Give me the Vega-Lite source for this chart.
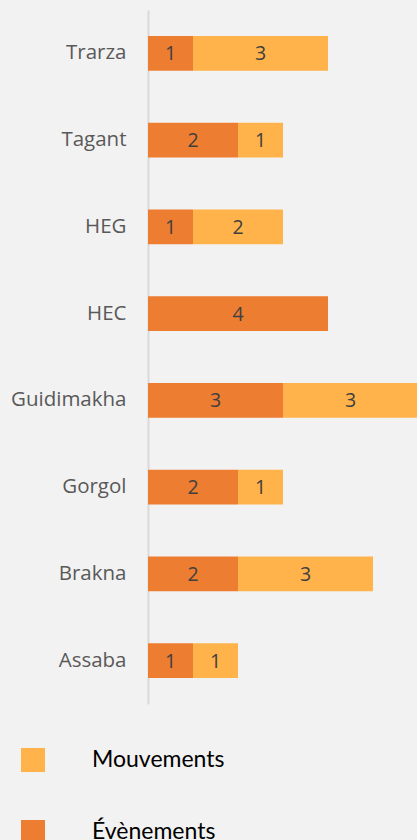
{
  "$schema": "https://vega.github.io/schema/vega-lite/v6.json",
  "autosize": {"type": "none"},
  "width": 270,
  "height": 694,
  "padding": {"left": 148, "top": 10, "right": 0, "bottom": 136},
  "background": "#f2f2f2",
  "config": {"view": {"stroke": null}},
  "data": {"values": [
    {"region": "Trarza", "serie": "Évènements", "value": 1},
    {"region": "Trarza", "serie": "Mouvements", "value": 3},
    {"region": "Tagant", "serie": "Évènements", "value": 2},
    {"region": "Tagant", "serie": "Mouvements", "value": 1},
    {"region": "HEG", "serie": "Évènements", "value": 1},
    {"region": "HEG", "serie": "Mouvements", "value": 2},
    {"region": "HEC", "serie": "Évènements", "value": 4},
    {"region": "Guidimakha", "serie": "Évènements", "value": 3},
    {"region": "Guidimakha", "serie": "Mouvements", "value": 3},
    {"region": "Gorgol", "serie": "Évènements", "value": 2},
    {"region": "Gorgol", "serie": "Mouvements", "value": 1},
    {"region": "Brakna", "serie": "Évènements", "value": 2},
    {"region": "Brakna", "serie": "Mouvements", "value": 3},
    {"region": "Assaba", "serie": "Évènements", "value": 1},
    {"region": "Assaba", "serie": "Mouvements", "value": 1}
  ]},
  "transform": [
    {"stack": "value", "groupby": ["region"], "as": ["v0", "v1"], "sort": [{"field": "serie", "order": "descending"}]},
    {"calculate": "(datum.v0 + datum.v1) / 2", "as": "mid"}
  ],
  "encoding": {
    "y": {
      "field": "region", "type": "nominal",
      "sort": ["Trarza", "Tagant", "HEG", "HEC", "Guidimakha", "Gorgol", "Brakna", "Assaba"],
      "scale": {"paddingInner": 0.6, "paddingOuter": 0.3},
      "axis": {
        "title": null, "ticks": false, "domainColor": "#d9d9d9", "domainWidth": 2,
        "labelFont": "Open Sans", "labelFontSize": 20.5, "labelColor": "#595959",
        "labelPadding": 22
      }
    }
  },
  "layer": [
    {
      "mark": {"type": "bar"},
      "encoding": {
        "x": {"field": "v0", "type": "quantitative", "scale": {"domain": [0, 6], "nice": false}, "axis": null},
        "x2": {"field": "v1"},
        "color": {
          "field": "serie", "type": "nominal",
          "scale": {"domain": ["Mouvements", "Évènements"], "range": ["#FFB34A", "#ED7D31"]},
          "legend": {
            "title": null, "orient": "none", "legendX": -127, "legendY": 738,
            "direction": "vertical", "symbolType": "square", "symbolSize": 576,
            "symbolStrokeWidth": 0, "symbolOpacity": 1, "rowPadding": 48, "labelOffset": 47,
            "labelFont": "Lato", "labelFontSize": 23, "labelColor": "#000000",
            "padding": 0,
            "encode": {"symbols": {"enter": {"fill": {"signal": "datum.value === 'Mouvements' ? '#FBBA1D' : '#ED7D31'"}}, "update": {"fill": {"signal": "datum.value === 'Mouvements' ? '#FBBA1D' : '#ED7D31'"}}}}
          }
        }
      }
    },
    {
      "mark": {"type": "text", "font": "Open Sans", "fontSize": 19.5, "color": "#404040", "baseline": "middle", "dy": 1},
      "encoding": {
        "x": {"field": "mid", "type": "quantitative"},
        "text": {"field": "value", "type": "quantitative"}
      }
    }
  ]
}
